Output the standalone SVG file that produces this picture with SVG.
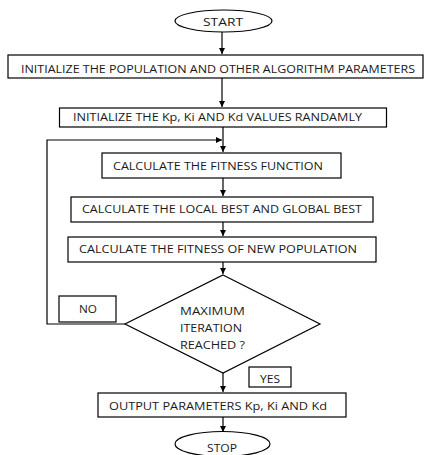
<svg xmlns="http://www.w3.org/2000/svg" width="432" height="455" viewBox="0 0 432 455">
  <style>
    .box { fill: #fff; stroke: #000; stroke-width: 1.2; }
    .lbl { font-family: "Open Sans", "Liberation Sans", sans-serif; font-size: 11px; fill: #1a1a1a; }
    .wire { fill: none; stroke: #000; stroke-width: 1.2; }
  </style>
  <defs>
    <marker id="arrow" viewBox="0 0 8 8" refX="8" refY="4" markerWidth="6" markerHeight="6" markerUnits="userSpaceOnUse" orient="auto">
      <path d="M0,0 L8,4 L0,8 Z" fill="#000"/>
    </marker>
  </defs>
  <rect width="432" height="455" fill="#fff"/>

  <g id="connectors">
    <line class="wire" x1="222" y1="32" x2="222" y2="54" marker-end="url(#arrow)"/>
    <line class="wire" x1="222" y1="78" x2="222" y2="107" marker-end="url(#arrow)"/>
    <line class="wire" x1="223" y1="127" x2="223" y2="152" marker-end="url(#arrow)"/>
    <line class="wire" x1="223" y1="178" x2="223" y2="196" marker-end="url(#arrow)"/>
    <line class="wire" x1="223" y1="222" x2="223" y2="236" marker-end="url(#arrow)"/>
    <line class="wire" x1="223" y1="262" x2="223" y2="274" marker-end="url(#arrow)"/>
    <line class="wire" x1="223" y1="373" x2="223" y2="392" marker-end="url(#arrow)"/>
    <line class="wire" x1="223" y1="417" x2="223" y2="432" marker-end="url(#arrow)"/>
    <polyline class="wire" points="125,324 47,324 47,140 222,140" marker-end="url(#arrow)"/>
  </g>

  <g id="start">
    <ellipse class="box" cx="223.5" cy="21" rx="48.5" ry="11"/>
    <text class="lbl" x="203" y="25.5" textLength="40" lengthAdjust="spacingAndGlyphs">START</text>
  </g>

  <g id="init-population">
    <rect class="box" x="8" y="55" width="415" height="23"/>
    <text class="lbl" x="21" y="73" textLength="394" lengthAdjust="spacingAndGlyphs">INITIALIZE THE POPULATION AND OTHER ALGORITHM PARAMETERS</text>
  </g>

  <g id="init-gains">
    <rect class="box" x="59.5" y="108" width="327" height="19"/>
    <text class="lbl" x="73" y="121" textLength="289" lengthAdjust="spacingAndGlyphs">INITIALIZE THE Kp, Ki AND Kd VALUES RANDAMLY</text>
  </g>

  <g id="fitness">
    <rect class="box" x="102" y="153" width="239" height="25"/>
    <text class="lbl" x="113" y="170" textLength="210" lengthAdjust="spacingAndGlyphs">CALCULATE THE FITNESS FUNCTION</text>
  </g>

  <g id="best">
    <rect class="box" x="71" y="197" width="302" height="25"/>
    <text class="lbl" x="82" y="213" textLength="280" lengthAdjust="spacingAndGlyphs">CALCULATE THE LOCAL BEST AND GLOBAL BEST</text>
  </g>

  <g id="new-fitness">
    <rect class="box" x="68" y="237" width="308" height="25"/>
    <text class="lbl" x="79" y="253" textLength="278" lengthAdjust="spacingAndGlyphs">CALCULATE THE FITNESS OF NEW POPULATION</text>
  </g>

  <g id="decision">
    <polygon class="box" points="223,275 320,324 223,373 125,324"/>
    <text class="lbl" x="180" y="315" textLength="65" lengthAdjust="spacingAndGlyphs">MAXIMUM</text>
    <text class="lbl" x="180" y="332" textLength="62" lengthAdjust="spacingAndGlyphs">ITERATION</text>
    <text class="lbl" x="180" y="349" textLength="65" lengthAdjust="spacingAndGlyphs">REACHED ?</text>
  </g>

  <g id="no-label">
    <rect class="box" x="59" y="296" width="57" height="26"/>
    <text class="lbl" x="79" y="312.5" textLength="18" lengthAdjust="spacingAndGlyphs">NO</text>
  </g>

  <g id="yes-label">
    <rect class="box" x="249" y="367" width="42" height="20"/>
    <text class="lbl" x="260" y="382.5" textLength="20" lengthAdjust="spacingAndGlyphs">YES</text>
  </g>

  <g id="output">
    <rect class="box" x="98" y="393" width="248" height="24"/>
    <text class="lbl" x="109" y="409.5" textLength="218" lengthAdjust="spacingAndGlyphs">OUTPUT PARAMETERS Kp, Ki AND Kd</text>
  </g>

  <g id="stop">
    <ellipse class="box" cx="222.5" cy="444" rx="47.5" ry="12.5"/>
    <text class="lbl" x="207" y="452" textLength="30" lengthAdjust="spacingAndGlyphs">STOP</text>
  </g>
</svg>
